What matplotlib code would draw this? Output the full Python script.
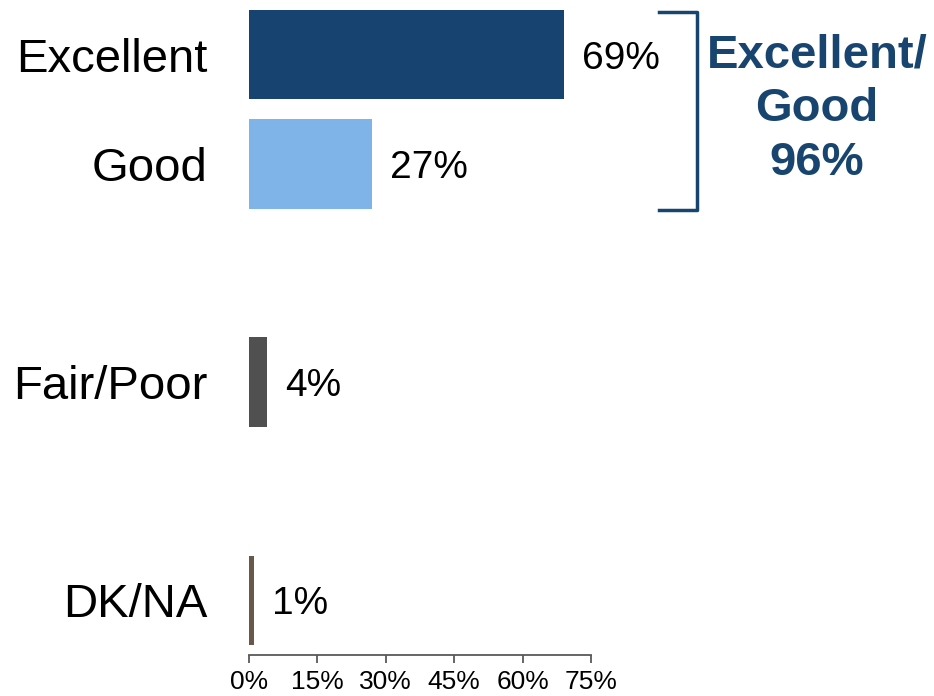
import matplotlib
matplotlib.use('Agg')
import matplotlib.pyplot as plt

plt.rcParams['font.family'] = ['Liberation Sans', 'DejaVu Sans']

categories = ['Excellent', 'Good', 'Fair/Poor', 'DK/NA']
values = [69, 27, 4, 1]
colors = ['#16436F', '#7FB4E9', '#505050', '#675849']
xticks = [0, 15, 30, 45, 60, 75]
combined_label = 'Excellent/\nGood\n96%'

# empty slot between the groups
ypos = [0, 1, 3, 5]

fig = plt.figure(figsize=(9.34, 6.96), dpi=100)
ax = fig.add_axes([249/934, 41/696, 342/934, 655/696])

ax.barh(ypos, values, height=0.82, color=colors)

for y, v in zip(ypos, values):
    ax.annotate('%d%%' % v, xy=(v, y), xytext=(13, 0), textcoords='offset points',
                va='center_baseline', ha='left', fontsize=28, color='black')

ax.set_xlim(0, 75)
ax.set_ylim(5.5, -0.5)
ax.set_xticks(xticks)
ax.set_xticklabels(['%d%%' % t for t in xticks], fontsize=19)
ax.set_yticks(ypos)
ax.set_yticklabels(categories, fontsize=34)
ax.tick_params(axis='y', length=0, pad=30)
ax.tick_params(axis='x', length=6, width=1.3, color='#595959', pad=5)

for s in ['top', 'right', 'left']:
    ax.spines[s].set_visible(False)
ax.spines['bottom'].set_color('#595959')
ax.spines['bottom'].set_linewidth(1.3)

# bracket around Excellent + Good
navy = '#18456F'
ax.plot([89.9, 98.2, 98.2, 89.9], [-0.39, -0.39, 1.42, 1.42], color=navy,
        lw=2.5, clip_on=False, solid_joinstyle='round')
ax.text(124.6, 0.5, combined_label, ha='center', va='center', fontsize=34,
        fontweight='bold', color=navy, linespacing=1.28, clip_on=False)

fig.savefig('out.png', dpi=100)
